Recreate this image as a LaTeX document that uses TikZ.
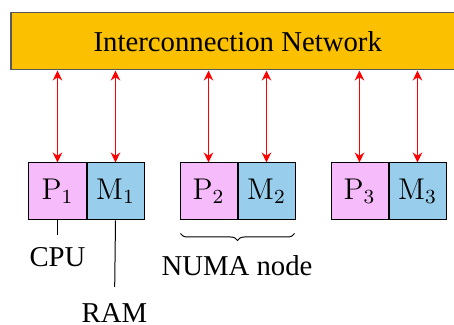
\documentclass[tikz,border=0pt]{standalone}
\usepackage[no-math]{fontspec}
\setmainfont{Liberation Serif}
\usetikzlibrary{arrows.meta, positioning, decorations.pathreplacing}
\definecolor{netcol}{RGB}{251,192,0}
\definecolor{pcol}{RGB}{246,187,250}
\definecolor{mcol}{RGB}{152,206,236}

\begin{document}
\begin{tikzpicture}[x=0.4pt, y=-0.4pt, font=\fontsize{11.5}{14}\selectfont,
  proc/.style={rectangle, draw, fill=pcol, minimum width=22.8pt, minimum height=22.8pt, inner sep=0pt},
  mem/.style={proc, fill=mcol},
  link/.style={red, line width=0.7pt, {Stealth[length=4pt, width=3.8pt, inset=1.3pt]}-{Stealth[length=4pt, width=3.8pt, inset=1.3pt]}},
  tag/.style={inner sep=0pt, anchor=north}]
  \useasboundingbox (0,0) rectangle (454,325);
  \clip (0,0) rectangle (454,325);
  \node[draw=black!65, line width=0.6pt, fill=netcol, minimum width=181.6pt, minimum height=22.8pt, inner sep=0pt, anchor=north west] (net) at (10,12) {Interconnection Network};
  % NUMA nodes: processor + memory
  \foreach \i/\x in {1/57.5, 2/208.5, 3/359.5} {
    \node[proc] (p\i) at (\x,191.5) {$\mathrm{P}_{\i}$};
    \node[mem, right=0pt of p\i] (m\i) {$\mathrm{M}_{\i}$};
    \draw[link] (net.south -| p\i.north) -- (p\i.north);
    \draw[link] (net.south -| m\i.north) -- (m\i.north);
  }
  % labels
  \node[tag] (cpu) at (57.5,247) {CPU};
  \draw[shorten >=4.8pt] (p1.south) -- (cpu.north);
  \node[tag] (ram) at (114.5,303) {RAM};
  \draw[shorten >=6.4pt] (m1.south) -- (ram.north);
  \draw[decorate, decoration={brace, mirror, amplitude=2.8pt}]
    ([xshift=0.4pt, yshift=-5.2pt]p2.south west) -- ([xshift=-0.4pt, yshift=-5.2pt]m2.south east);
  \node[tag] (numa) at (237,255) {NUMA node};
\end{tikzpicture}
\end{document}
